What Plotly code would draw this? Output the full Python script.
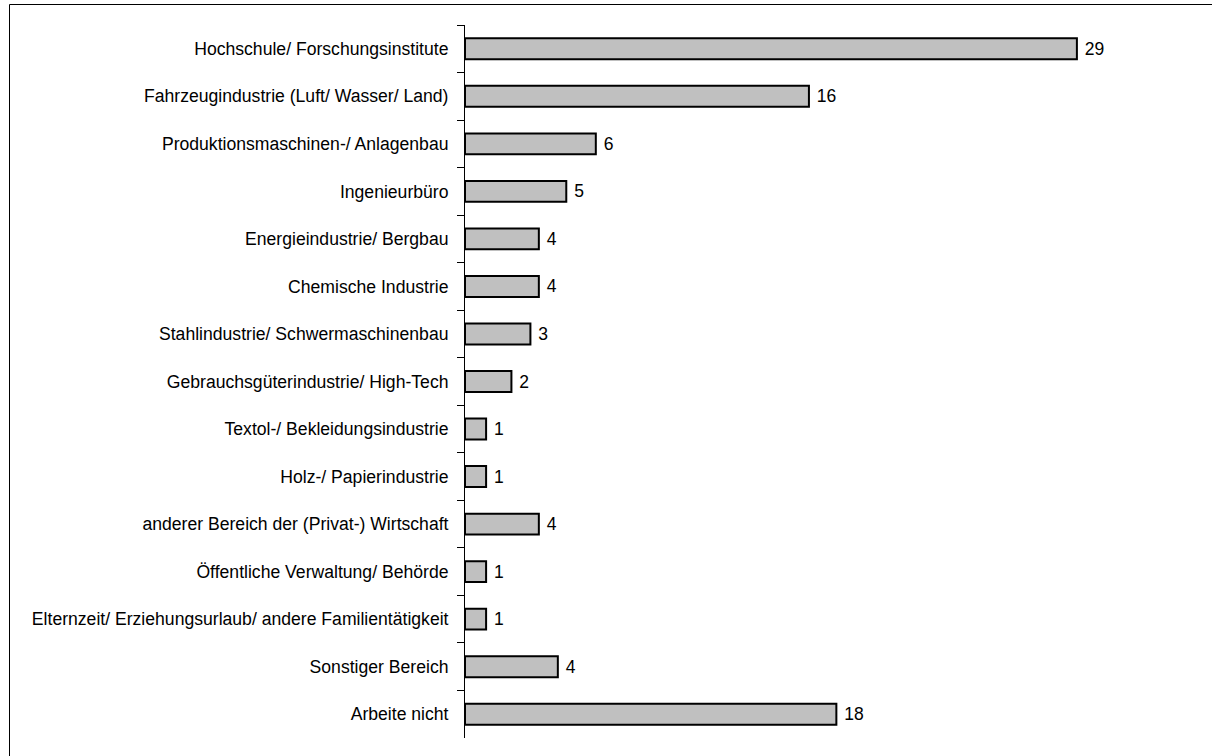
import plotly.graph_objects as go

categories = [
    "Hochschule/ Forschungsinstitute",
    "Fahrzeugindustrie (Luft/ Wasser/ Land)",
    "Produktionsmaschinen-/ Anlagenbau",
    "Ingenieurbüro",
    "Energieindustrie/ Bergbau",
    "Chemische Industrie",
    "Stahlindustrie/ Schwermaschinenbau",
    "Gebrauchsgüterindustrie/ High-Tech",
    "Textol-/ Bekleidungsindustrie",
    "Holz-/ Papierindustrie",
    "anderer Bereich der (Privat-) Wirtschaft",
    "Öffentliche Verwaltung/ Behörde",
    "Elternzeit/ Erziehungsurlaub/ andere Familientätigkeit",
    "Sonstiger Bereich",
    "Arbeite nicht",
]
values = [29.0, 16.3, 6.2, 4.8, 3.5, 3.5, 3.1, 2.2, 1.0, 1.0, 3.5, 1.0, 1.0, 4.4, 17.6]
value_labels = ["29", "16", "6", "5", "4", "4", "3", "2", "1", "1", "4", "1", "1", "4", "18"]

FONT = "Liberation Sans, Arial, sans-serif"

fig = go.Figure(
    go.Bar(
        x=values,
        y=categories,
        orientation="h",
        text=value_labels,
        texttemplate=" %{text}",
        textposition="outside",
        cliponaxis=False,
        textfont=dict(family=FONT, size=17.5, color="#000000"),
        marker=dict(color="#C0C0C0", line=dict(color="#000000", width=2)),
        hoverinfo="skip",
    )
)

L, R, T, B = 465, 114, 25, 18
W, H = 1212, 756
pw = W - L - R
ph = H - T - B

fig.update_layout(
    width=W,
    height=H,
    margin=dict(l=L, r=R, t=T, b=B, pad=0, autoexpand=False),
    plot_bgcolor="white",
    paper_bgcolor="white",
    bargap=0.56,
    showlegend=False,
    font=dict(family=FONT, size=17.6, color="#000000"),
    xaxis=dict(
        range=[0, 30],
        visible=False,
        showgrid=False,
        zeroline=False,
    ),
    yaxis=dict(
        type="category",
        autorange="reversed",
        automargin=False,
        showgrid=False,
        zeroline=False,
        showline=True,
        linecolor="#000000",
        linewidth=1,
        ticks="outside",
        ticklen=7,
        tickwidth=1,
        tickcolor="#000000",
        tickson="boundaries",
        ticklabelstandoff=12,
        tickfont=dict(family=FONT, size=17.6, color="#000000"),
    ),
    shapes=[
        dict(
            type="rect",
            xref="paper",
            yref="paper",
            x0=(9.5 - L) / pw,
            x1=(W + 10 - L) / pw,
            y0=-(B + 10) / ph,
            y1=(H - B - 4.5) / ph,
            line=dict(color="#000000", width=1),
            fillcolor="rgba(0,0,0,0)",
            layer="above",
        )
    ],
)

fig.write_html(
    "out.html",
    config={"displayModeBar": False},
    post_script="document.body.style.margin='0';document.body.style.overflow='hidden';",
)
